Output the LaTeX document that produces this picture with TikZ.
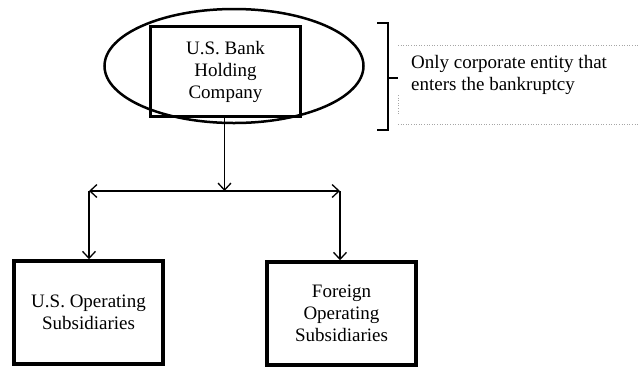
\documentclass[tikz,border=0pt]{standalone}
\usepackage{fontspec}
\setmainfont{Liberation Serif}
\usetikzlibrary{shapes.geometric,arrows.meta}
\begin{document}
\begin{tikzpicture}[x=1pt,y=-1pt,
  txt/.style={font=\fontsize{19}{22}\selectfont, align=center},
  thickbox/.style={draw, line width=3.5pt, txt, inner sep=0pt},
  conn/.style={line width=1.3pt},
  tip/.style={-{Straight Barb[length=7pt,width=13pt,line width=1.3pt]}},
  dots/.style={draw=black!35, dotted, line width=0.6pt}]
\useasboundingbox (0,0) rectangle (640,368);
% oval around holding company
\node[draw, ellipse, line width=2.5pt, minimum width=259pt, minimum height=114pt, inner sep=0pt] (oval) at (234,66) {};
\node[thickbox, minimum width=150pt, minimum height=90pt] (hold) at (225.5,71.5) {U.S. Bank\\Holding\\Company};
% subsidiaries
\node[thickbox, minimum width=149pt, minimum height=103pt] (sub1) at (88.5,312.5) {U.S. Operating\\Subsidiaries};
\node[thickbox, minimum width=149pt, minimum height=103pt] (sub2) at (341.5,313.5) {Foreign\\Operating\\Subsidiaries};
% connectors
\coordinate (mid) at (224.5,191);
\coordinate (left) at (89,191);
\coordinate (right) at (340,191);
\draw[conn, tip] (hold.south -| mid) -- (mid);
\draw[conn, tip] (mid) -- (left);
\draw[conn, tip] (mid) -- (right);
\draw[conn, tip] (left) -- (left |- sub1.north);
\draw[conn, tip] (right) -- (right |- sub2.north);
% bracket
\draw[line width=1.6pt] (377,23) -- (388,23) -- (388,130) -- (377,130);
\draw[line width=1.6pt] (388,78) -- (398,78);
% note
\node[txt, align=left, anchor=north west, inner sep=0pt] (note) at (411,55) {Only corporate entity that\\enters the bankruptcy};
\draw[dots] (398,45) -- (640,45);
\draw[dots] (398,124) -- (640,124);
\draw[dots] (398,95) -- (398,115);
\end{tikzpicture}
\end{document}
